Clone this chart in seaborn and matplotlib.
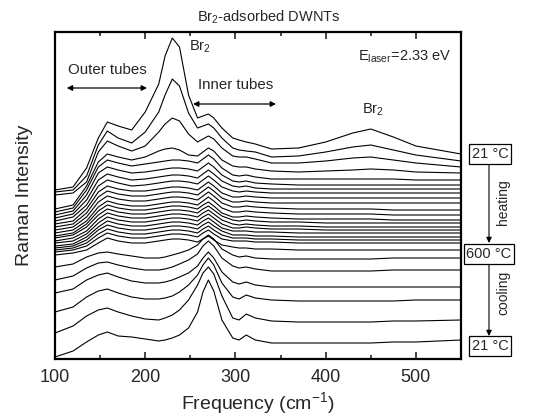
import numpy as np
import pandas as pd
import matplotlib
matplotlib.use("Agg")
import matplotlib.pyplot as plt
from matplotlib.ticker import MultipleLocator
import seaborn as sns

# Raman shift grid (cm^-1)
freq = [100, 120, 135, 148, 158, 170, 185, 200, 215, 222, 230, 238, 248, 258, 264,
        270, 276, 285, 297, 304, 312, 322, 340, 370, 400, 430, 450, 475, 500, 550]

# Heating series 21 C -> 600 C (offset intensities, arb. units)
h01 = [170, 173, 192, 222, 238, 234, 230, 248, 276, 304, 322, 313, 265, 242, 244, 246, 242, 232, 222, 220, 218, 216, 211, 212, 218, 227, 231, 223, 214, 206]
h02 = [168, 170, 184, 215, 229, 222, 217, 228, 248, 265, 281, 274, 247, 232, 234, 236, 232, 222, 212, 210, 209, 208, 203, 204, 208, 213, 215, 210, 205, 199]
h03 = [165, 167, 178, 208, 219, 214, 209, 214, 228, 236, 242, 239, 226, 218, 221, 224, 221, 212, 204, 203, 203, 201, 197, 197, 199, 202, 203, 200, 197, 193]
h04 = [151, 155, 174, 198, 206, 203, 200, 203, 209, 211, 212, 210, 205, 204, 208, 212, 209, 200, 194, 193, 193, 191, 189, 188, 189, 190, 191, 190, 188, 187]
h05 = [148, 152, 170, 193, 200, 197, 194, 196, 198, 199, 200, 200, 199, 197, 201, 205, 201, 192, 185, 184, 185, 183, 181, 181, 181, 181, 181, 181, 180, 180]
h06 = [145, 149, 165, 187, 193, 190, 187, 188, 190, 191, 192, 192, 191, 189, 193, 197, 193, 185, 179, 178, 179, 177, 176, 175, 175, 175, 175, 175, 175, 175]
h07 = [142, 146, 160, 180, 186, 183, 180, 181, 183, 184, 185, 185, 184, 182, 186, 190, 186, 179, 174, 173, 174, 172, 171, 171, 171, 171, 171, 171, 171, 171]
h08 = [139, 143, 155, 174, 180, 177, 174, 175, 177, 178, 179, 179, 178, 176, 180, 184, 180, 173, 169, 168, 169, 168, 167, 167, 167, 167, 167, 167, 167, 167]
h09 = [136, 139, 151, 168, 174, 171, 169, 169, 171, 172, 173, 173, 172, 170, 174, 178, 174, 167, 163, 163, 164, 163, 162, 162, 162, 162, 162, 162, 162, 162]
h10 = [133, 136, 147, 163, 169, 166, 164, 164, 166, 167, 168, 168, 167, 165, 169, 173, 169, 162, 158, 158, 159, 158, 157, 157, 157, 157, 157, 157, 157, 157]
h11 = [130, 133, 143, 158, 164, 161, 159, 159, 161, 162, 163, 163, 162, 160, 164, 168, 164, 157, 153, 153, 154, 153, 152, 151, 151, 151, 151, 150, 150, 150]
h12 = [127, 130, 139, 153, 159, 156, 154, 154, 156, 157, 158, 158, 157, 155, 159, 163, 159, 152, 148, 148, 149, 148, 147, 146, 146, 146, 146, 145, 145, 145]
h13 = [124, 127, 136, 149, 155, 152, 150, 150, 152, 153, 154, 154, 153, 151, 155, 158, 154, 147, 143, 143, 144, 143, 142, 141, 141, 141, 141, 140, 140, 140]
h14 = [122, 125, 133, 145, 151, 148, 146, 146, 148, 149, 150, 150, 149, 147, 151, 154, 150, 144, 140, 139, 140, 139, 138, 138, 137, 137, 137, 137, 137, 137]
h15 = [119, 122, 129, 141, 147, 144, 142, 142, 144, 145, 146, 146, 145, 143, 147, 150, 146, 140, 136, 135, 136, 135, 134, 134, 133, 133, 133, 133, 133, 133]
h16 = [117, 119, 126, 137, 143, 140, 138, 138, 140, 141, 142, 142, 141, 139, 143, 146, 142, 136, 132, 132, 133, 132, 131, 131, 130, 130, 130, 130, 130, 130]
h17 = [114, 116, 123, 133, 139, 136, 134, 134, 136, 137, 138, 138, 137, 135, 139, 142, 138, 132, 129, 129, 129, 128, 128, 127, 127, 127, 127, 127, 127, 127]
h18 = [112, 114, 120, 130, 135, 132, 130, 130, 132, 133, 134, 134, 133, 131, 135, 138, 134, 129, 125, 125, 125, 124, 124, 123, 123, 123, 123, 123, 123, 123]
h19 = [110, 112, 117, 126, 131, 128, 126, 126, 128, 129, 130, 130, 129, 127, 131, 134, 130, 125, 122, 122, 122, 121, 121, 120, 120, 120, 120, 120, 120, 120]
h20 = [108, 110, 114, 122, 127, 124, 122, 122, 124, 125, 126, 126, 125, 123, 127, 130, 126, 121, 119, 119, 119, 118, 118, 117, 117, 117, 117, 117, 117, 117]
h21 = [105, 107, 110, 117, 122, 119, 117, 117, 119, 120, 121, 121, 120, 118, 121, 124, 120, 115, 113, 112, 112, 111, 111, 110, 110, 110, 110, 110, 110, 110]

# Cooling series 600 C -> 21 C
c00 = [93, 96, 103, 107, 108, 106, 104, 102, 102, 103, 105, 107, 110, 115, 121, 125, 121, 111, 105, 103, 104, 102, 101, 101, 101, 101, 101, 102, 102, 102]
c01 = [80, 84, 92, 97, 98, 95, 92, 90, 90, 91, 93, 96, 100, 106, 114, 119, 114, 102, 94, 92, 93, 91, 89, 89, 89, 89, 89, 90, 90, 90]
c02 = [67, 71, 80, 85, 87, 83, 79, 77, 77, 78, 80, 83, 87, 94, 102, 108, 102, 88, 78, 76, 78, 75, 73, 73, 73, 73, 73, 73, 73, 73]
c03 = [48, 53, 63, 69, 71, 67, 63, 61, 61, 62, 64, 68, 75, 85, 95, 102, 95, 77, 63, 61, 65, 62, 60, 59, 59, 59, 59, 59, 60, 60]
c04 = [27, 34, 44, 50, 52, 48, 44, 41, 40, 42, 45, 50, 60, 75, 87, 93, 86, 64, 42, 40, 46, 42, 39, 38, 38, 38, 38, 39, 39, 40]
c05 = [3, 9, 18, 25, 28, 24, 23, 21, 19, 20, 22, 25, 32, 48, 68, 80, 69, 40, 22, 20, 25, 20, 17, 17, 17, 17, 17, 18, 18, 20]

spectra = {
    "h01": h01, "h02": h02, "h03": h03, "h04": h04, "h05": h05, "h06": h06,
    "h07": h07, "h08": h08, "h09": h09, "h10": h10, "h11": h11, "h12": h12,
    "h13": h13, "h14": h14, "h15": h15, "h16": h16, "h17": h17, "h18": h18,
    "h19": h19, "h20": h20, "h21": h21,
    "c00": c00, "c01": c01, "c02": c02, "c03": c03, "c04": c04, "c05": c05,
}

frames = []
for name, vals in spectra.items():
    frames.append(pd.DataFrame({"freq": freq, "intensity": vals, "spectrum": name}))
df = pd.concat(frames, ignore_index=True)

sns.set_style("ticks")
plt.rcParams["font.family"] = ["Liberation Sans", "DejaVu Sans"]
plt.rcParams["mathtext.default"] = "regular"
plt.rcParams["lines.solid_joinstyle"] = "round"

W, H = 536, 416
fig = plt.figure(figsize=(W / 100, H / 100), dpi=100)
ax = fig.add_axes([55 / W, 57 / H, 406 / W, 327 / H])

sns.lineplot(data=df, x="freq", y="intensity", units="spectrum", estimator=None,
             color="black", linewidth=0.8, sort=False, legend=False, ax=ax)

ax.set_xlim(100, 550)
ax.set_ylim(1, 328)
ax.set_yticks([])
ax.xaxis.set_major_locator(MultipleLocator(100))
ax.xaxis.set_minor_locator(MultipleLocator(50))
ax.tick_params(axis="x", which="both", direction="in", top=True, bottom=True,
               labelsize=13, pad=7)
ax.tick_params(axis="x", which="major", length=5, width=1.2)
ax.tick_params(axis="x", which="minor", length=3, width=1.2)
for sp in ax.spines.values():
    sp.set_linewidth(1.6)
    sp.set_color("black")

ax.set_xlabel("Frequency (cm$^{-1}$)", fontsize=14)
ax.set_ylabel("Raman Intensity", fontsize=14)
ax.xaxis.set_label_coords(0.5, -0.095)
ax.yaxis.set_label_coords(-0.055, 0.5)

fig.text(269 / W, 1 - 17 / H, "Br$_2$-adsorbed DWNTs", ha="center", va="center", fontsize=10.5)

# in-axes annotations
ax.text(249, 313, "Br$_2$", ha="left", va="center", fontsize=10.5)
ax.text(158, 290, "Outer tubes", ha="center", va="center", fontsize=10.8)
ax.annotate("", xy=(202, 272), xytext=(113, 272),
            arrowprops=dict(arrowstyle="<|-|>", color="black", lw=0.9, mutation_scale=8,
                            shrinkA=0, shrinkB=0))
ax.text(300, 275, "Inner tubes", ha="center", va="center", fontsize=10.8)
ax.annotate("", xy=(345, 256), xytext=(253, 256),
            arrowprops=dict(arrowstyle="<|-|>", color="black", lw=0.9, mutation_scale=8,
                            shrinkA=0, shrinkB=0))
ax.text(539, 303, "E$_{laser}$=2.33 eV", ha="right", va="center", fontsize=10.5)
ax.text(452, 250, "Br$_2$", ha="center", va="center", fontsize=10.5)

# temperature sequence on the right
box = dict(boxstyle="square,pad=0.18", fc="white", ec="black", lw=0.9)
fig.text(490 / W, 1 - 154 / H, "21 °C", ha="center", va="center", fontsize=10.5, bbox=box)
fig.text(489 / W, 1 - 254 / H, "600 °C", ha="center", va="center", fontsize=10.5, bbox=box)
fig.text(490 / W, 1 - 346 / H, "21 °C", ha="center", va="center", fontsize=10.5, bbox=box)
fig.text(503 / W, 1 - 202 / H, "heating", ha="center", va="center", rotation=90, fontsize=10)
fig.text(503 / W, 1 - 293 / H, "cooling", ha="center", va="center", rotation=90, fontsize=10)
for y0, y1 in [(165, 243), (265, 336)]:
    ax.annotate("", xy=(489 / W, 1 - y1 / H), xytext=(489 / W, 1 - y0 / H),
                xycoords="figure fraction", textcoords="figure fraction",
                annotation_clip=False,
                arrowprops=dict(arrowstyle="-|>", color="black", lw=0.8, mutation_scale=8,
                                shrinkA=0, shrinkB=0))

fig.savefig("out.png", dpi=100)
